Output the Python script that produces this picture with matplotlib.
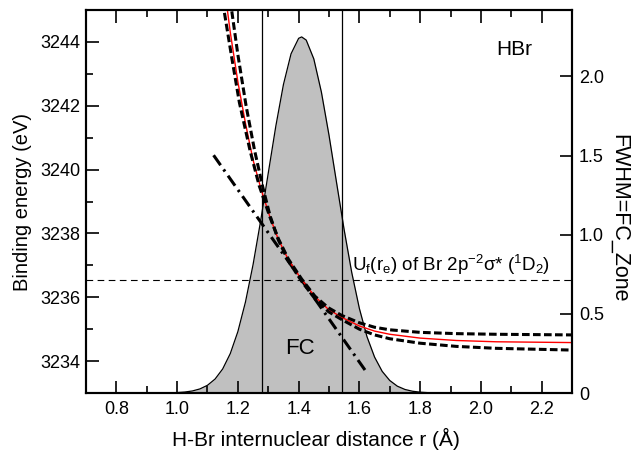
import matplotlib
matplotlib.use("Agg")
import matplotlib.pyplot as plt
from matplotlib.ticker import MultipleLocator, FixedLocator, FixedFormatter

plt.rcParams['font.family'] = ['Liberation Sans', 'DejaVu Sans']
plt.rcParams['mathtext.fontset'] = 'custom'
plt.rcParams['mathtext.rm'] = 'Liberation Sans'
plt.rcParams['mathtext.it'] = 'Liberation Sans:italic'

# Franck-Condon zone (right axis)
fc_r = [0.95, 0.975, 1.0, 1.025, 1.05, 1.075, 1.1, 1.125, 1.15, 1.175, 1.2, 1.225,
        1.25, 1.275, 1.3, 1.325, 1.35, 1.375, 1.4, 1.41, 1.425, 1.45, 1.475, 1.5,
        1.525, 1.55, 1.575, 1.6, 1.625, 1.65, 1.675, 1.7, 1.725, 1.75, 1.775, 1.8,
        1.825, 1.85]
fc_val = [0.0005, 0.0012, 0.0028, 0.0061, 0.0128, 0.0257, 0.0488, 0.0883, 0.152,
          0.249, 0.388, 0.575, 0.811, 1.088, 1.389, 1.687, 1.949, 2.143, 2.241, 2.25,
          2.230, 2.111, 1.901, 1.629, 1.328, 1.030, 0.760, 0.534, 0.356, 0.227, 0.137,
          0.079, 0.0431, 0.0224, 0.0111, 0.0052, 0.0023, 0.0010]

# final-state potential curve (red)
pot_r = [1.16, 1.175, 1.2, 1.225, 1.25, 1.276, 1.306, 1.333, 1.366, 1.41, 1.454,
         1.498, 1.542, 1.6, 1.65, 1.7, 1.8, 1.92, 2.05, 2.3]
pot_E = [3245.4, 3244.3, 3242.75, 3241.45, 3240.3, 3239.4, 3238.5, 3237.82, 3237.18,
         3236.55, 3236.02, 3235.62, 3235.37, 3235.1, 3234.94, 3234.84, 3234.72,
         3234.645, 3234.605, 3234.58]

# upper / lower bound curves (dashed)
up_r = [1.15, 1.18, 1.205, 1.24, 1.27, 1.306, 1.333, 1.366, 1.41, 1.454, 1.498,
        1.542, 1.6, 1.65, 1.7, 1.8, 1.92, 2.05, 2.3]
up_E = [3245.25, 3243.5, 3242.1, 3240.6, 3239.5, 3238.5, 3237.84, 3237.2, 3236.57,
        3236.03, 3235.67, 3235.43, 3235.2, 3235.06, 3234.98, 3234.9, 3234.86,
        3234.84, 3234.82]
lo_r = [1.175, 1.2, 1.227, 1.255, 1.282, 1.306, 1.333, 1.366, 1.41, 1.454, 1.498,
        1.542, 1.6, 1.65, 1.7, 1.8, 1.92, 2.05, 2.3]
lo_E = [3245.3, 3243.6, 3242.0, 3240.6, 3239.45, 3238.55, 3237.8, 3237.14, 3236.5,
        3235.95, 3235.55, 3235.3, 3235.0, 3234.82, 3234.7, 3234.56, 3234.46, 3234.4,
        3234.345]

# tangent at r_e (dash-dot)
tan_r = [1.12, 1.62]
tan_E = [3240.45, 3233.7]

fwhm_lines = [1.278, 1.542]
uf_re = 3236.55

fig = plt.figure(figsize=(6.36, 4.51), dpi=100)
ax = fig.add_axes([0.1352, 0.1286, 0.7642, 0.8492])
ax2 = ax.twinx()
ax.set_zorder(ax2.get_zorder() + 1)
ax.patch.set_visible(False)

ax2.fill_between(fc_r, fc_val, 0, color='#c0c0c0', lw=0)
ax2.plot(fc_r, fc_val, color='black', lw=0.9)
ax2.set_ylim(0, 2.42)

for xv in fwhm_lines:
    ax.axvline(xv, color='black', lw=0.9)
ax.axhline(uf_re, color='black', lw=0.8, dashes=(6, 4))

ax.plot(tan_r, tan_E, color='black', lw=2.2, dashes=(4, 1.7, 0.8, 1.7))
ax.plot(pot_r, pot_E, color='red', lw=1.0)
ax.plot(up_r, up_E, color='black', lw=2.2, dashes=(2.5, 1.1))
ax.plot(lo_r, lo_E, color='black', lw=2.2, dashes=(2.5, 1.1))

ax.set_xlim(0.7, 2.3)
ax.set_ylim(3233, 3245)
ax.xaxis.set_major_locator(MultipleLocator(0.2))
ax.xaxis.set_minor_locator(MultipleLocator(0.1))
ax.yaxis.set_major_locator(MultipleLocator(2))
ax.yaxis.set_minor_locator(MultipleLocator(1))
ax.tick_params(which='both', direction='in', top=True, right=False, width=1.2,
               labelsize=13)
ax.tick_params(which='major', length=9)
ax.tick_params(which='minor', length=5)
ax.tick_params(axis='x', pad=6)
ax.tick_params(axis='y', pad=4)

ax2.yaxis.set_major_locator(FixedLocator([0, 0.5, 1.0, 1.5, 2.0]))
ax2.yaxis.set_major_formatter(FixedFormatter(['0', '0.5', '1.0', '1.5', '2.0']))
ax2.tick_params(direction='in', length=9, width=1.2, labelsize=13, pad=5)

for a in (ax, ax2):
    for s in a.spines.values():
        s.set_linewidth(1.5)

ax.set_xlabel('H-Br internuclear distance r (Å)', fontsize=15)
ax.xaxis.set_label_coords(0.473, -0.09)
ax.set_ylabel('Binding energy (eV)', fontsize=14.5)
ax.yaxis.set_label_coords(-0.112, 0.5)
ax2.set_ylabel('FWHM=FC_Zone', fontsize=15.5, rotation=270)
ax2.yaxis.set_label_coords(1.118, 0.457)

ax.text(2.11, 3243.75, 'HBr', fontsize=15, ha='center', va='center')
ax.text(1.405, 3234.4, 'FC', fontsize=16, ha='center', va='center')
ax.text(1.575, 3236.62,
        r'U$_\mathrm{f}$(r$_\mathrm{e}$) of Br 2p$^{-2}$σ* ($^{1}$D$_{2}$)',
        fontsize=13.5, ha='left', va='bottom')

fig.savefig('out.png', dpi=100)
